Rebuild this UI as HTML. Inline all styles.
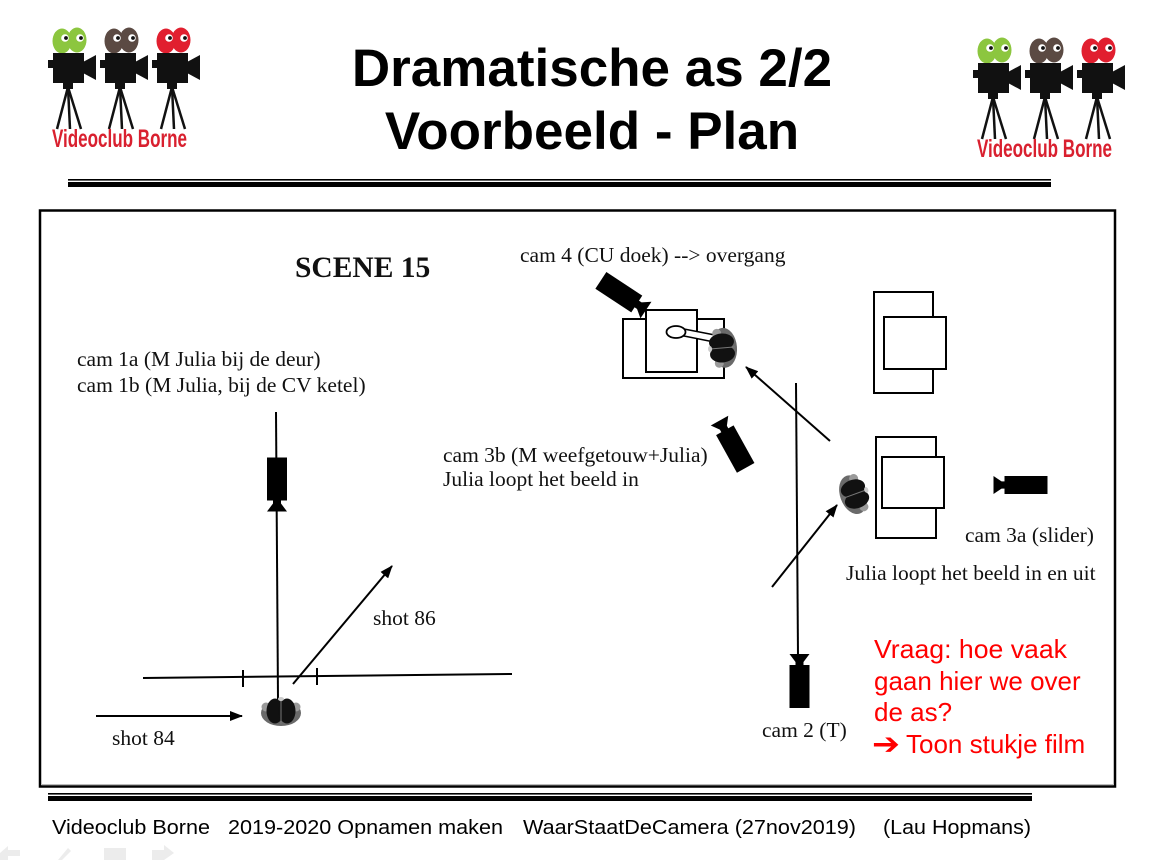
<!DOCTYPE html>
<html><head><meta charset="utf-8"><style>
html,body{margin:0;padding:0;background:#fff;}
svg{display:block;}
.t{font-family:"Liberation Serif","Times New Roman",serif;font-size:21.5px;fill:#111;}
.a{font-family:"Liberation Sans",Arial,sans-serif;}
</style></head><body>
<svg width="1168" height="860" viewBox="0 0 1168 860" xmlns="http://www.w3.org/2000/svg">
<defs>
 <marker id="ah" markerWidth="14" markerHeight="10" refX="12" refY="5" orient="auto" markerUnits="userSpaceOnUse">
  <path d="M0,0 L13,5 L0,10 Z" fill="#000"/>
 </marker>
 <g id="cam">
  <rect x="-10" y="-21" width="20" height="43" fill="#000"/>
  <rect x="-4" y="21" width="8" height="5" fill="#000"/>
  <polygon points="-4,25 4,25 10,33 -10,33" fill="#000"/>
 </g>
 <g id="person">
  <ellipse cx="0" cy="2" rx="20" ry="13" fill="#6a6a6a"/>
  <ellipse cx="-15" cy="-4" rx="4.5" ry="4.5" fill="#9a9a9a"/>
  <ellipse cx="15" cy="-4" rx="4.5" ry="4.5" fill="#9a9a9a"/>
  <ellipse cx="-6" cy="0" rx="8.5" ry="12.5" fill="#111"/>
  <ellipse cx="6" cy="0" rx="8.5" ry="12.5" fill="#111"/>
  <line x1="0" y1="-12" x2="0" y2="13" stroke="#777" stroke-width="1"/>
  <ellipse cx="0" cy="-12" rx="3" ry="2" fill="#ccc"/>
 </g>
 <g id="logoCam">
  <ellipse cx="62" cy="41" rx="9.5" ry="12.5"/>
  <ellipse cx="77" cy="40" rx="9.5" ry="12.5"/>
  <circle cx="65" cy="38" r="3.8" fill="#fff"/>
  <circle cx="66" cy="38" r="1.9" fill="#111"/>
  <circle cx="80" cy="38" r="3.8" fill="#fff"/>
  <circle cx="81" cy="38" r="1.9" fill="#111"/>
  <rect x="53" y="53" width="31" height="30" fill="#111"/>
  <rect x="48" y="60" width="6" height="8" fill="#111"/>
  <polygon points="83,62 96,55 96,80 83,73" fill="#111"/>
  <rect x="63" y="82" width="10" height="7" fill="#111"/>
  <line x1="68" y1="87" x2="57" y2="129" stroke="#111" stroke-width="2.5"/>
  <line x1="68" y1="87" x2="70" y2="129" stroke="#111" stroke-width="2.5"/>
  <line x1="68" y1="87" x2="81" y2="129" stroke="#111" stroke-width="2.5"/>
 </g>
 <g id="logo">
  <use href="#logoCam" fill="#8cc63f"/>
  <use href="#logoCam" x="52" fill="#5b4a43"/>
  <use href="#logoCam" x="104" fill="#e11f2f"/>
  <text x="52" y="147" class="a" font-weight="bold" font-size="25" fill="#d9202f" textLength="135" lengthAdjust="spacingAndGlyphs">Videoclub Borne</text>
 </g>
</defs>

<!-- logos -->
<use href="#logo"/>
<use href="#logo" x="925" y="10"/>

<!-- title -->
<text x="592" y="86" text-anchor="middle" class="a" font-weight="bold" font-size="53" fill="#000">Dramatische as 2/2</text>
<text x="592" y="149" text-anchor="middle" class="a" font-weight="bold" font-size="53" fill="#000">Voorbeeld - Plan</text>

<!-- top double line -->
<rect x="68" y="179" width="983" height="1.6" fill="#000"/>
<rect x="68" y="182" width="983" height="5" fill="#000"/>

<!-- main box -->
<rect x="40" y="210.5" width="1075" height="576" fill="none" stroke="#000" stroke-width="2.5"/>
<line x1="42" y1="784.5" x2="1113" y2="784.5" stroke="#bbb" stroke-width="1"/>

<!-- scene text -->
<text x="295" y="277" font-family="Liberation Serif,serif" font-weight="bold" font-size="29.5" fill="#111">SCENE 15</text>
<text x="520" y="262" class="t">cam 4 (CU doek) --&gt; overgang</text>
<text x="77" y="366" class="t">cam 1a (M Julia bij de deur)</text>
<text x="77" y="392" class="t">cam 1b (M Julia, bij de CV ketel)</text>
<text x="443" y="462" class="t">cam 3b (M weefgetouw+Julia)</text>
<text x="443" y="486" class="t">Julia loopt het beeld in</text>
<text x="965" y="542" class="t">cam 3a (slider)</text>
<text x="846" y="580" class="t">Julia loopt het beeld in en uit</text>
<text x="373" y="625" class="t">shot 86</text>
<text x="112" y="745" class="t">shot 84</text>
<text x="762" y="737" class="t">cam 2 (T)</text>

<!-- red question -->
<g class="a" font-size="26" fill="#f00">
 <text x="874" y="658" textLength="193" lengthAdjust="spacingAndGlyphs">Vraag: hoe vaak</text>
 <text x="874" y="690">gaan hier we over</text>
 <text x="874" y="721">de as?</text>
 <text x="872" y="754" font-family="DejaVu Sans,sans-serif" font-weight="bold" font-size="30" textLength="28" lengthAdjust="spacingAndGlyphs">➔</text>
 <text x="906" y="753">Toon stukje film</text>
</g>

<!-- left diagram -->
<line x1="276" y1="412" x2="278" y2="700" stroke="#000" stroke-width="2"/>
<line x1="143" y1="678" x2="512" y2="674" stroke="#000" stroke-width="2"/>
<line x1="243" y1="670" x2="243" y2="687" stroke="#000" stroke-width="2"/>
<line x1="317" y1="668" x2="317" y2="685" stroke="#000" stroke-width="2"/>
<use href="#cam" transform="translate(277,478.5)"/>
<use href="#person" transform="translate(281,711)"/>
<line x1="96" y1="716" x2="242" y2="716" stroke="#000" stroke-width="2" marker-end="url(#ah)"/>
<line x1="293" y1="684" x2="392" y2="566" stroke="#000" stroke-width="2" marker-end="url(#ah)"/>

<!-- cam 4 table area -->
<rect x="623" y="319" width="101" height="59" fill="#fff" stroke="#000" stroke-width="2"/>
<rect x="646" y="310" width="51" height="62" fill="#fff" stroke="#000" stroke-width="2"/>
<polygon points="684,329 720,336 719,343 684,336" fill="#fff" stroke="#000" stroke-width="1.5"/>
<ellipse cx="676" cy="332" rx="9.5" ry="6" fill="#fff" stroke="#000" stroke-width="1.8"/>
<use href="#person" transform="translate(722,348) rotate(-95)"/>
<use href="#cam" transform="translate(618.4,291.9) rotate(-56.6)"/>

<!-- cam 3b -->
<use href="#cam" transform="translate(735.5,449.5) rotate(151)"/>

<!-- cam 2 line -->
<line x1="796" y1="383" x2="798" y2="656" stroke="#000" stroke-width="2"/>
<use href="#cam" transform="translate(799.5,687) rotate(180)"/>

<!-- arrows right -->
<line x1="830" y1="441" x2="746" y2="367" stroke="#000" stroke-width="2" marker-end="url(#ah)"/>
<line x1="772" y1="587" x2="837" y2="505" stroke="#000" stroke-width="2" marker-end="url(#ah)"/>

<!-- right furniture -->
<rect x="874" y="292" width="59" height="101" fill="#fff" stroke="#000" stroke-width="2"/>
<rect x="884" y="317" width="62" height="52" fill="#fff" stroke="#000" stroke-width="2"/>
<rect x="876" y="437" width="60" height="101" fill="#fff" stroke="#000" stroke-width="2"/>
<rect x="882" y="457" width="62" height="51" fill="#fff" stroke="#000" stroke-width="2"/>

<!-- person 2 -->
<use href="#person" transform="translate(855,494) rotate(70)"/>

<!-- cam 3a -->
<use href="#cam" transform="translate(1026.5,485) rotate(90) scale(0.9,1)"/>

<!-- bottom double line -->
<rect x="48" y="793" width="984" height="1.6" fill="#000"/>
<rect x="48" y="796" width="984" height="5" fill="#000"/>

<!-- footer -->
<g class="a" font-size="20.5" fill="#000">
 <text x="52" y="834" textLength="158" lengthAdjust="spacingAndGlyphs">Videoclub Borne</text>
 <text x="228" y="834" textLength="275" lengthAdjust="spacingAndGlyphs">2019-2020 Opnamen maken</text>
 <text x="523" y="834" textLength="333" lengthAdjust="spacingAndGlyphs">WaarStaatDeCamera (27nov2019)</text>
 <text x="883" y="834" textLength="148" lengthAdjust="spacingAndGlyphs">(Lau Hopmans)</text>
</g>

<!-- faded nav icons -->
<g fill="#ececec">
 <polygon points="0,853 8,846 8,850 20,850 20,856 8,856 8,860 0,860"/>
 <polygon points="58,860 68,848 71,851 62,860"/>
 <rect x="104" y="848" width="22" height="12"/>
 <polygon points="152,850 164,850 164,845 174,853 164,860 152,860"/>
</g>
</svg>
</body></html>
